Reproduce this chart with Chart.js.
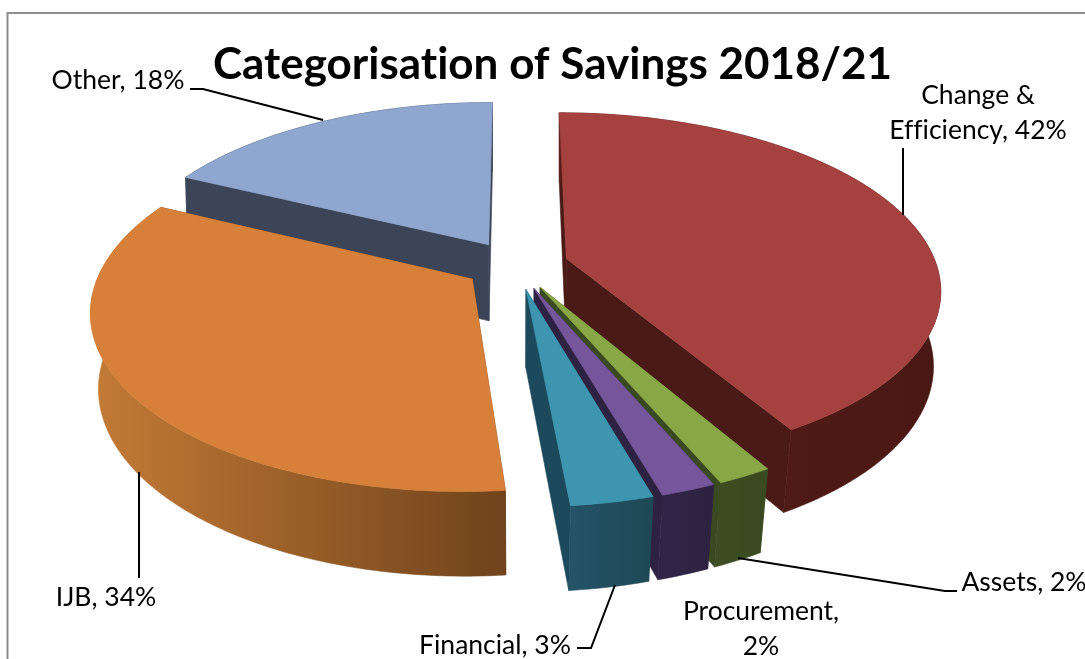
<!DOCTYPE html>
<html>
<head>
<meta charset="utf-8">
<title>Categorisation of Savings 2018/21</title>
<script src="https://cdn.jsdelivr.net/npm/chart.js@4/dist/chart.umd.min.js"></script>
<style>
  html, body { margin: 0; background: #fff; overflow: hidden; }
  canvas { display: block; }
</style>
</head>
<body>
<canvas id="savings" width="1085" height="659"></canvas>
<script>
const categories = ['Change & Efficiency', 'Assets', 'Procurement', 'Financial', 'IJB', 'Other'];
const savingsPct = [42, 2, 2, 3, 34, 18];

const topColors = ['#A5423F', '#8AA748', '#76569A', '#3D95B0', '#D78039', '#8FA6CE'];
const wallColors = [
    ['#5A1E1A', '#4A1814'], ['#3E4E22', '#3A4A20'], ['#312547', '#2E2242'],
    ['#255468', '#1E4855'], ['#C27A35', '#70431C'], ['#3C4557', '#3C4557']
];
const edgeColors = ['#4A1A16', '#3A4A20', '#2E2242', '#1C4A5C', '#74461F', '#3C4557'];

// back-to-front order so nearer slices cover the ones behind
const paintOrder = [5, 4, 0, 1, 2, 3];

// camera for the tilted pie
const camera = { cx: 516, cy: 265, a: 370, b: 172, p: 0.166, depth: 77, depthFront: 7, taper: 0.015 };

function topPoint(u, v) {
    const w = 1 - camera.p * v;
    return [camera.cx + camera.a * u / w, camera.cy + camera.b * v / w];
}

function floorPoint(u, v) {
    const t = topPoint(u, v);
    const x = camera.cx + (t[0] - camera.cx) * (1 - camera.taper * (1 + v));
    return [x, t[1] + camera.depth + camera.depthFront * v];
}

function tracePoly(ctx, pts) {
    ctx.beginPath();
    pts.forEach((p, i) => (i ? ctx.lineTo(p[0], p[1]) : ctx.moveTo(p[0], p[1])));
    ctx.closePath();
}

function fillPoly(ctx, pts, color) {
    tracePoly(ctx, pts);
    ctx.fillStyle = color;
    ctx.strokeStyle = color;
    ctx.lineWidth = 0.6;
    ctx.fill();
    ctx.stroke();
}

// pie controller that paints each arc as an extruded wedge
class Pie3DController extends Chart.PieController {
    static id = 'pie3d';

    draw() {
        const ctx = this.chart.ctx;
        const arcs = this.getMeta().data;
        const ds = this.getDataset();
        paintOrder.forEach((i) => this.drawWedge(ctx, arcs[i], i, ds));
    }

    drawWedge(ctx, arc, i, ds) {
        const { startAngle, endAngle, outerRadius } = arc.getProps(['startAngle', 'endAngle', 'outerRadius'], true);
        const mid = (startAngle + endAngle) / 2;
        const e = arc.options.offset / outerRadius;
        const ox = e * Math.cos(mid);
        const oy = e * Math.sin(mid);

        const steps = Math.max(4, Math.ceil((endAngle - startAngle) * 60));
        const rim = [];
        for (let s = 0; s <= steps; s++) {
            const ang = startAngle + (endAngle - startAngle) * s / steps;
            rim.push([Math.cos(ang) + ox, Math.sin(ang) + oy]);
        }

        const apexTop = topPoint(ox, oy);
        const apexFloor = floorPoint(ox, oy);
        const rimTop = rim.map((r) => topPoint(r[0], r[1]));
        const rimFloor = rim.map((r) => floorPoint(r[0], r[1]));
        const last = rim.length - 1;

        // two cut faces
        fillPoly(ctx, [apexTop, rimTop[0], rimFloor[0], apexFloor], ds.edgeColor[i]);
        fillPoly(ctx, [apexTop, rimTop[last], rimFloor[last], apexFloor], ds.edgeColor[i]);

        // outer wall, shaded left to right
        const xs = rimFloor.map((p) => p[0]);
        const grad = ctx.createLinearGradient(Math.min(...xs), 0, Math.max(...xs), 0);
        grad.addColorStop(0, ds.wallColor[i][0]);
        grad.addColorStop(1, ds.wallColor[i][1]);
        fillPoly(ctx, rimTop.concat(rimFloor.slice().reverse()), grad);

        // top face
        fillPoly(ctx, [apexTop].concat(rimTop), ds.backgroundColor[i]);
    }
}
Chart.register(Pie3DController);

// text blocks and leader lines beside the slices
const dataLabels = [
    { lines: ['Change &', 'Efficiency, 42%'], x: 978, y: 95, lead: [[903, 148], [903, 215]] },
    { lines: ['Assets, 2%'], x: 1024, y: 582, lead: [[738, 558], [945, 591], [957, 591]] },
    { lines: ['Procurement,', '2%'], x: 761, y: 611, lead: [] },
    { lines: ['Financial, 3%'], x: 495, y: 645, lead: [[577, 648], [591, 648], [615, 585]] },
    { lines: ['IJB, 34%'], x: 106, y: 597, lead: [[139, 472], [139, 578]] },
    { lines: ['Other, 18%'], x: 118, y: 80, lead: [[190, 89], [203, 89], [323, 120]] }
];

const framePlugin = {
    id: 'frame',
    beforeDraw(chart) {
        const ctx = chart.ctx;
        // plain glyphs, no ti/ffi ligatures
        ctx.textRendering = 'optimizeSpeed';
        ctx.save();
        ctx.fillStyle = '#fff';
        ctx.fillRect(0, 0, chart.width, chart.height);
        ctx.strokeStyle = '#8C8C8C';
        ctx.lineWidth = 2;
        ctx.beginPath();
        ctx.moveTo(7.5, chart.height);
        ctx.lineTo(7.5, 13);
        ctx.lineTo(chart.width, 13);
        ctx.stroke();
        ctx.restore();
    }
};

const labelPlugin = {
    id: 'sliceLabels',
    afterDraw(chart) {
        const ctx = chart.ctx;
        ctx.save();
        ctx.font = '26.5px Lato';
        ctx.fillStyle = '#000';
        ctx.strokeStyle = '#000';
        ctx.lineWidth = 2;
        ctx.textAlign = 'center';
        ctx.textBaseline = 'middle';
        dataLabels.forEach((lab) => {
            lab.lines.forEach((line, n) => ctx.fillText(line, lab.x, lab.y + n * 35));
            if (lab.lead.length) {
                ctx.beginPath();
                lab.lead.forEach((p, n) => (n ? ctx.lineTo(p[0], p[1]) : ctx.moveTo(p[0], p[1])));
                ctx.stroke();
            }
        });
        ctx.restore();
    }
};

new Chart(document.getElementById('savings'), {
    type: 'pie3d',
    data: {
        labels: categories,
        datasets: [{
            data: savingsPct,
            backgroundColor: topColors,
            wallColor: wallColors,
            edgeColor: edgeColors,
            borderWidth: 0,
            offset: 37,
            clip: false
        }]
    },
    options: {
        responsive: false,
        animation: false,
        layout: { padding: { left: 20 } },
        plugins: {
            legend: { display: false },
            tooltip: { enabled: false },
            title: {
                display: true,
                text: 'Categorisation of Savings 2018/21',
                color: '#000',
                font: { family: 'Lato', size: 44, weight: 'bold' },
                padding: { top: 38, bottom: 10 }
            }
        }
    },
    plugins: [framePlugin, labelPlugin]
});
</script>
</body>
</html>
